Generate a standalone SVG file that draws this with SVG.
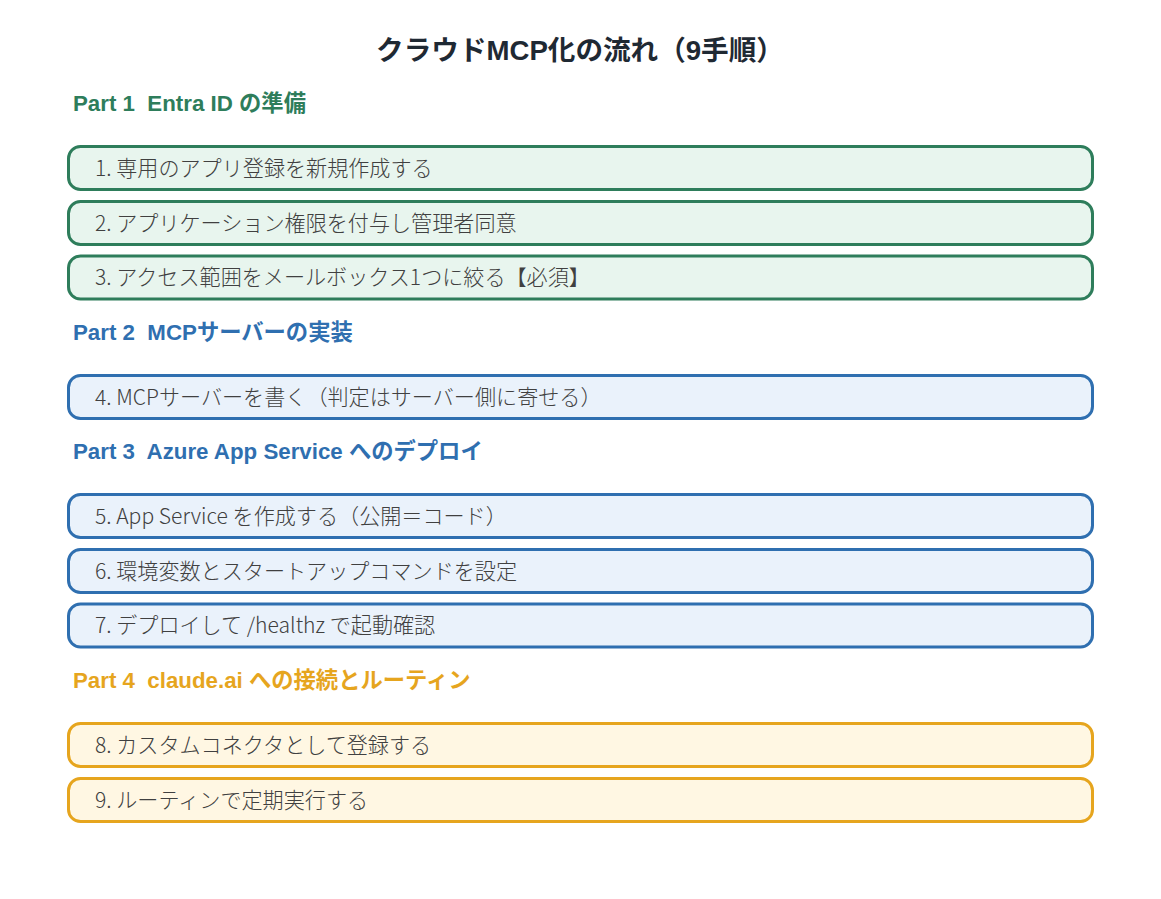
<svg xmlns="http://www.w3.org/2000/svg" width="1161" height="899" viewBox="0 0 1161 899">
<style>
text{font-family:"Liberation Sans","Noto Sans CJK JP",sans-serif;white-space:pre}
.title{font-size:27.6px;font-weight:bold;fill:#1f2933}
.hdr{font-size:22.3px;font-weight:bold}
.lbl{font-family:"Noto Sans CJK JP","Noto Sans",sans-serif;font-size:21.1px;fill:#404040;font-weight:300}
.g rect{fill:#e8f5ee;stroke:#2e7d5b;stroke-width:3}
.b rect{fill:#eaf2fb;stroke:#2f6fb0;stroke-width:3}
.o rect{fill:#fff7e3;stroke:#e6a51e;stroke-width:3}
</style>
<rect width="1161" height="899" fill="#ffffff"/>
<text class="title" x="580" y="60" text-anchor="middle">クラウドMCP化の流れ（9手順）</text>
<text class="hdr" x="73" y="111" fill="#2e7d5b" xml:space="preserve">Part 1  Entra ID の準備</text>
<text class="hdr" x="73" y="340" fill="#2f6fb0" xml:space="preserve">Part 2  MCPサーバーの実装</text>
<text class="hdr" x="73" y="459" fill="#2f6fb0" xml:space="preserve">Part 3  Azure App Service へのデプロイ</text>
<text class="hdr" x="73" y="688" fill="#e6a51e" xml:space="preserve">Part 4  claude.ai への接続とルーティン</text>
<g id="step1" class="g"><rect x="68.5" y="146.5" width="1024" height="43" rx="12"/><text class="lbl" x="95" y="175.5">1. 専用のアプリ登録を新規作成する</text></g>
<g id="step2" class="g"><rect x="68.5" y="201.5" width="1024" height="43" rx="12"/><text class="lbl" x="95" y="230.5">2. アプリケーション権限を付与し管理者同意</text></g>
<g id="step3" class="g"><rect x="68.5" y="256" width="1024" height="43" rx="12"/><text class="lbl" x="95" y="285">3. アクセス範囲をメールボックス1つに絞る【必須】</text></g>
<g id="step4" class="b"><rect x="68.5" y="375.5" width="1024" height="43" rx="12"/><text class="lbl" x="95" y="404.5">4. MCPサーバーを書く（判定はサーバー側に寄せる）</text></g>
<g id="step5" class="b"><rect x="68.5" y="494.5" width="1024" height="43" rx="12"/><text class="lbl" x="95" y="523.5">5. App Service を作成する（公開＝コード）</text></g>
<g id="step6" class="b"><rect x="68.5" y="549.5" width="1024" height="43" rx="12"/><text class="lbl" x="95" y="578.5">6. 環境変数とスタートアップコマンドを設定</text></g>
<g id="step7" class="b"><rect x="68.5" y="604" width="1024" height="43" rx="12"/><text class="lbl" x="95" y="633">7. デプロイして /healthz で起動確認</text></g>
<g id="step8" class="o"><rect x="68.5" y="723.5" width="1024" height="43" rx="12"/><text class="lbl" x="95" y="752.5">8. カスタムコネクタとして登録する</text></g>
<g id="step9" class="o"><rect x="68.5" y="778.5" width="1024" height="43" rx="12"/><text class="lbl" x="95" y="807.5">9. ルーティンで定期実行する</text></g>
<g id="connectors"></g>
</svg>
